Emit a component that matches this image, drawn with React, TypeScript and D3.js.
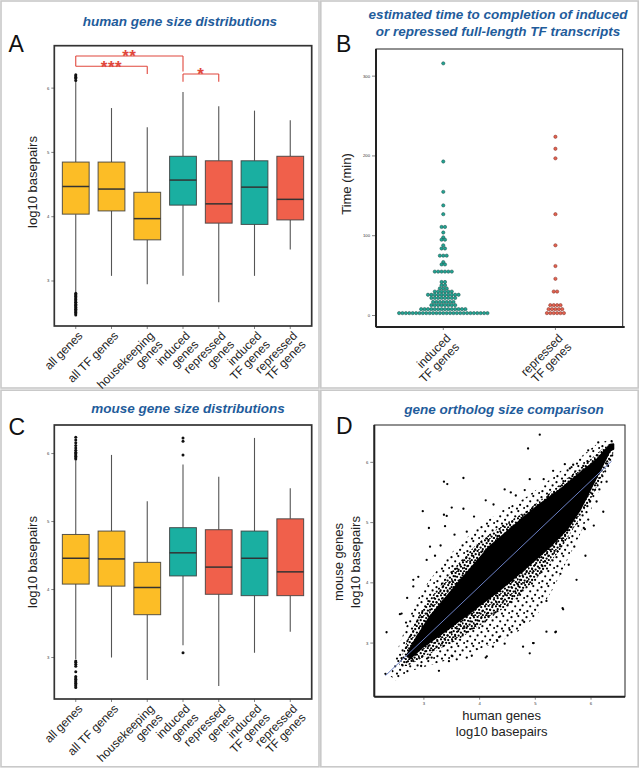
import React from "react";
import * as d3 from "d3";

const FONT = "'Liberation Sans', Arial, Helvetica, sans-serif";
const TITLE_BLUE = "#1f5c9b";
const YELLOW = "#fcbd26";
const TEAL = "#1aafa1";
const RED = "#f0604b";
const SIG_RED = "#e0473c";

// ---------- box plot data (log10 basepairs) ----------
const boxCategories = [
  "all genes",
  "all TF genes",
  "housekeeping\ngenes",
  "induced\ngenes",
  "repressed\ngenes",
  "induced\nTF genes",
  "repressed\nTF genes",
];
const boxGroups = ["base", "base", "base", "induced", "repressed", "induced", "repressed"];

const humanLower = [2.83, 3.08, 2.95, 3.08, 2.67, 3.08, 3.49];
const humanQ1 = [4.04, 4.09, 3.64, 4.18, 3.9, 3.88, 3.95];
const humanMedian = [4.47, 4.43, 3.97, 4.57, 4.2, 4.46, 4.27];
const humanQ3 = [4.85, 4.85, 4.38, 4.94, 4.87, 4.87, 4.94];
const humanUpper = [6.1, 5.69, 5.39, 5.94, 5.72, 5.65, 5.5];
const humanOutliers: [number, number][] = [
  [0, 6.12], [0, 6.15], [0, 6.17], [0, 6.19], [0, 6.21],
  [0, 2.81], [0, 2.79], [0, 2.77], [0, 2.76], [0, 2.74], [0, 2.72], [0, 2.71], [0, 2.69],
  [0, 2.67], [0, 2.66], [0, 2.64], [0, 2.62], [0, 2.61], [0, 2.59], [0, 2.57], [0, 2.56],
  [0, 2.54], [0, 2.52], [0, 2.51], [0, 2.49], [0, 2.47],
];

const mouseLower = [2.98, 3.0, 2.67, 3.18, 2.58, 3.07, 3.38];
const mouseQ1 = [4.08, 4.05, 3.63, 4.2, 3.93, 3.91, 3.91];
const mouseMedian = [4.46, 4.45, 4.03, 4.54, 4.33, 4.46, 4.26];
const mouseQ3 = [4.81, 4.86, 4.4, 4.91, 4.88, 4.86, 5.04];
const mouseUpper = [5.9, 5.98, 5.3, 5.84, 5.66, 6.23, 5.49];
const mouseOutliers: [number, number][] = [
  [0, 5.92], [0, 5.94], [0, 5.96], [0, 5.98], [0, 6.0], [0, 6.02], [0, 6.05], [0, 6.08],
  [0, 6.12], [0, 6.16], [0, 6.2], [0, 6.24],
  [0, 2.95], [0, 2.93], [0, 2.9], [0, 2.87], [0, 2.79], [0, 2.72], [0, 2.7], [0, 2.68],
  [0, 2.66], [0, 2.64], [0, 2.62], [0, 2.6], [0, 2.58], [0, 2.56],
  [3, 5.98], [3, 6.18], [3, 6.23], [3, 3.07],
];

const boxYTicks = [3, 4, 5, 6];

// significance brackets (panel A)
const bracketFrom = [0, 0, 3];
const bracketTo = [3, 2, 4];
const bracketY = [6.5, 6.34, 6.22];
const bracketFromEnd = [6.34, 6.34, 6.1];
const bracketToEnd = [6.26, 6.22, 6.1];
const bracketLabels = ["**", "***", "*"];

// ---------- dot plot data (minutes) ----------
const dotCategories = ["induced\nTF genes", "repressed\nTF genes"];
const inducedValues = [316, 193, 155, 138, 127, 111, 104, 98, 95, 88, 84, 75, 67, 64, 55, 42, 38, 34, 30, 26, 22, 17, 13, 8, 3];
const inducedCounts = [1, 1, 1, 1, 1, 2, 1, 1, 2, 1, 2, 3, 1, 2, 6, 2, 2, 3, 6, 10, 8, 7, 8, 14, 27];
const repressedValues = [224, 209, 197, 127, 88, 62, 46, 30, 13, 8, 3];
const repressedCounts = [1, 1, 1, 1, 1, 1, 1, 2, 4, 5, 6];
const timeTicks = [0, 100, 200, 300];

// ---------- ortholog scatter (log10 bp) ----------
const scatterTicks = [3, 4, 5, 6];
const coreRegion: [number, number][] = [
  [2.7, 2.8], [2.81, 3.0], [3.11, 3.44], [3.41, 3.77], [3.77, 4.16], [4.18, 4.6], [4.6, 4.93],
  [5.02, 5.26], [5.44, 5.54], [5.8, 5.82], [6.1, 6.04], [6.34, 6.29], [6.4, 6.3],
  [6.4, 6.22], [6.34, 6.2], [6.16, 5.87], [5.98, 5.54], [5.8, 5.21], [5.56, 4.88], [5.2, 4.55],
  [4.78, 4.21], [4.36, 3.88], [3.89, 3.55], [3.41, 3.22], [3.0, 2.95], [2.75, 2.75],
];
const midRegion: [number, number][] = [
  [2.55, 2.62], [2.7, 3.05], [2.9, 3.45], [3.2, 3.85], [3.55, 4.25], [3.95, 4.65], [4.4, 4.95],
  [4.85, 5.2], [5.2, 5.45], [5.55, 5.72], [5.9, 5.98], [6.2, 6.22], [6.38, 6.34], [6.4, 6.15],
  [6.2, 5.78], [6.0, 5.4], [5.75, 5.0], [5.45, 4.55], [5.05, 4.1], [4.6, 3.7], [4.1, 3.35],
  [3.6, 3.05], [3.1, 2.82], [2.7, 2.62],
];
const outerRegion: [number, number][] = [
  [2.4, 2.45], [2.55, 2.95], [2.75, 3.45], [2.95, 3.85], [3.23, 4.2], [3.59, 4.6], [4.01, 4.95],
  [4.4, 5.2], [4.8, 5.4], [5.1, 5.6], [5.44, 5.85], [5.8, 6.08], [6.1, 6.3], [6.34, 6.38],
  [6.42, 6.32], [6.4, 6.1], [6.22, 5.7], [6.04, 5.3], [5.8, 4.8], [5.56, 4.35], [5.32, 3.9],
  [5.02, 3.45], [4.6, 3.12], [4.13, 2.95], [3.71, 2.8], [3.29, 2.68], [2.81, 2.55], [2.5, 2.38],
];
const scatterOutliers: [number, number][] = [
  [5.08, 6.46], [4.87, 6.23], [6.13, 6.33], [6.37, 6.35], [3.71, 5.74], [3.36, 5.68], [3.42, 5.64],
  [2.98, 5.19], [3.09, 4.91], [3.11, 4.6], [3.36, 5.13], [3.38, 4.94], [3.71, 5.23], [4.11, 5.37],
  [4.56, 5.5], [4.9, 5.72], [5.53, 5.97], [5.68, 5.96], [5.89, 4.89], [6.28, 5.68], [6.22, 5.18],
  [3.77, 4.85], [2.33, 3.18], [2.57, 3.48], [2.68, 3.34], [2.31, 2.49], [3.27, 2.54], [3.08, 2.76],
  [3.5, 2.79], [3.86, 2.79], [4.11, 2.76], [4.9, 2.83], [4.45, 2.99], [5.36, 3.18], [5.5, 3.56],
  [5.74, 4.05], [5.2, 3.19], [4.96, 3.0], [4.24, 2.94], [3.5, 5.25], [3.41, 5.11], [4.45, 5.55],
  [4.81, 5.54], [5.32, 5.86], [5.86, 5.94], [5.98, 5.35], [6.1, 5.35], [5.87, 4.91], [5.49, 3.58],
  [5.37, 3.19], [4.97, 3.0], [4.13, 2.78], [2.6, 3.49], [2.81, 4.05], [2.81, 3.94], [3.14, 2.76],
  [3.59, 2.73], [3.77, 2.76], [4.54, 3.22], [4.78, 2.94], [4.31, 3.05],
  [3.05, 4.38], [3.2, 4.45], [3.3, 4.62], [3.55, 4.8], [3.9, 5.1], [4.25, 5.3], [4.65, 5.45],
  [5.15, 5.72], [5.62, 5.9], [5.95, 6.2], [6.3, 5.95], [6.15, 5.55], [5.95, 5.05], [5.7, 4.6],
  [5.45, 4.15], [5.2, 3.7], [4.8, 3.35], [4.35, 3.1], [3.95, 2.9], [3.45, 2.7], [2.95, 2.62],
  [2.6, 2.75], [2.7, 3.75], [2.9, 4.1], [5.6, 4.3], [5.9, 4.45], [6.05, 4.95],
];
const regressionX = [2.31, 6.37];
const regressionY = [2.46, 6.02];

// ---------------------------------------------------------
const groupColor = (g: string) => (g === "base" ? YELLOW : g === "induced" ? TEAL : RED);

type Plot = { left: number; right: number; top: number; bottom: number };

function RotatedLabel({ x, y, label, size = 12 }: { x: number; y: number; label: string; size?: number }) {
  const lines = label.split("\n");
  return (
    <text
      transform={`translate(${x},${y}) rotate(-45)`}
      textAnchor="end"
      fontSize={size}
      fontFamily={FONT}
      fill="#222"
    >
      {lines.map((l, i) => (
        <tspan key={i} x={0} dy={i === 0 ? "0.72em" : "1.02em"}>
          {l}
        </tspan>
      ))}
    </text>
  );
}

function YTicks({ y, ticks, left }: { y: d3.ScaleLinear<number, number>; ticks: number[]; left: number }) {
  return (
    <g>
      {ticks.map((t) => (
        <g key={t}>
          <line x1={left - 3} x2={left} y1={y(t)} y2={y(t)} stroke="#333" strokeWidth={0.6} />
          <text x={left - 5} y={y(t)} dy="0.35em" textAnchor="end" fontSize={4.2} fontFamily={FONT} fill="#333">
            {t}
          </text>
        </g>
      ))}
    </g>
  );
}

function BoxPanel(props: {
  plot: Plot;
  yDomain: [number, number];
  lower: number[];
  q1: number[];
  median: number[];
  q3: number[];
  upper: number[];
  outliers: [number, number][];
  withBrackets?: boolean;
}) {
  const { plot, yDomain, lower, q1, median, q3, upper, outliers, withBrackets } = props;
  const x = d3.scalePoint<string>().domain(boxCategories).range([plot.left, plot.right]).padding(0.6);
  const y = d3.scaleLinear().domain(yDomain).range([plot.bottom, plot.top]);
  const bw = x.step() * 0.75;
  return (
    <g>
      {boxCategories.map((c, i) => {
        const cx = x(c)!;
        return (
          <g key={c}>
            <line x1={cx} x2={cx} y1={y(lower[i])} y2={y(q1[i])} stroke="#555" strokeWidth={1.1} />
            <line x1={cx} x2={cx} y1={y(q3[i])} y2={y(upper[i])} stroke="#555" strokeWidth={1.1} />
            <rect
              x={cx - bw / 2}
              y={y(q3[i])}
              width={bw}
              height={y(q1[i]) - y(q3[i])}
              fill={groupColor(boxGroups[i])}
              stroke="#3a3a3a"
              strokeOpacity={0.85}
              strokeWidth={1}
            />
            <line x1={cx - bw / 2} x2={cx + bw / 2} y1={y(median[i])} y2={y(median[i])} stroke="#333" strokeWidth={1.5} />
          </g>
        );
      })}
      {outliers.map(([i, v], k) => (
        <circle key={k} cx={x(boxCategories[i])!} cy={y(v)} r={1.5} fill="#111" />
      ))}
      {withBrackets &&
        bracketLabels.map((lab, k) => {
          const x1 = x(boxCategories[bracketFrom[k]])!;
          const x2 = x(boxCategories[bracketTo[k]])!;
          const yy = y(bracketY[k]);
          return (
            <g key={k} stroke={SIG_RED} strokeWidth={1.1} fill="none">
              <line x1={x1} x2={x2} y1={yy} y2={yy} />
              <line x1={x1} x2={x1} y1={yy} y2={y(bracketFromEnd[k])} />
              <line x1={x2} x2={x2} y1={yy} y2={y(bracketToEnd[k])} />
              <text
                x={(x1 + x2) / 2}
                y={yy + 6.5}
                textAnchor="middle"
                fontSize={17}
                fontWeight="bold"
                fontFamily={FONT}
                fill={SIG_RED}
                stroke="none"
                letterSpacing={0.5}
              >
                {lab}
              </text>
            </g>
          );
        })}
      <rect
        x={plot.left}
        y={plot.top}
        width={plot.right - plot.left}
        height={plot.bottom - plot.top}
        fill="none"
        stroke="#333"
        strokeWidth={1.7}
      />
      <YTicks y={y} ticks={boxYTicks} left={plot.left} />
      {boxCategories.map((c) => (
        <g key={c}>
          <line x1={x(c)!} x2={x(c)!} y1={plot.bottom} y2={plot.bottom + 3} stroke="#333" strokeWidth={0.6} />
          <RotatedLabel x={x(c)! + 1.5} y={plot.bottom + 4.5} label={c} />
        </g>
      ))}
    </g>
  );
}

function DotPanel({ plot }: { plot: Plot }) {
  const x = d3.scalePoint<string>().domain(dotCategories).range([plot.left, plot.right]).padding(0.6);
  const y = d3.scaleLinear().domain([-14.4, 334]).range([plot.bottom, plot.top]);
  const d = 3.4;
  const series = [
    { cat: dotCategories[0], values: inducedValues, counts: inducedCounts, fill: "#22a594", stroke: "#1b4a45" },
    { cat: dotCategories[1], values: repressedValues, counts: repressedCounts, fill: "#e4624f", stroke: "#7b2b23" },
  ];
  return (
    <g>
      {series.map((s) =>
        s.values.map((v, bi) => {
          const n = s.counts[bi];
          return d3.range(n).map((k) => (
            <circle
              key={`${s.cat}-${bi}-${k}`}
              cx={x(s.cat)! + (k - (n - 1) / 2) * d}
              cy={y(v)}
              r={d / 2 - 0.05}
              fill={s.fill}
              stroke={s.stroke}
              strokeWidth={0.5}
            />
          ));
        })
      )}
      <rect x={plot.left} y={plot.top} width={plot.right - plot.left} height={plot.bottom - plot.top} fill="none" stroke="#222" strokeWidth={1} />
      <line x1={plot.left} x2={plot.left} y1={plot.top} y2={plot.bottom} stroke="#222" strokeWidth={2} />
      <line x1={plot.left} x2={plot.right + 2} y1={plot.bottom} y2={plot.bottom} stroke="#222" strokeWidth={2} />
      <YTicks y={y} ticks={timeTicks} left={plot.left - 1} />
      {dotCategories.map((c) => (
        <g key={c}>
          <line x1={x(c)!} x2={x(c)!} y1={plot.bottom} y2={plot.bottom + 3} stroke="#333" strokeWidth={0.6} />
          <RotatedLabel x={x(c)! + 2} y={plot.bottom + 6} label={c} />
        </g>
      ))}
    </g>
  );
}

function ScatterPanel({ plot }: { plot: Plot }) {
  const x = d3.scaleLinear().domain([2.11, 6.61]).range([plot.left, plot.right]);
  const y = d3.scaleLinear().domain([2.11, 6.62]).range([plot.bottom, plot.top]);
  const poly = (pts: [number, number][]) => pts.map(([a, b]) => `${x(a)},${y(b)}`).join(" ");
  const line = d3
    .line<number>()
    .x((_, i) => x(regressionX[i]))
    .y((_, i) => y(regressionY[i]));
  return (
    <g>
      <defs>
        <pattern id="haloSparse" width={15} height={15} patternUnits="userSpaceOnUse">
          <circle cx={1.5} cy={2.2} r={1.1} fill="#000" />
          <circle cx={8.3} cy={1.1} r={1.1} fill="#000" />
          <circle cx={12.6} cy={5.4} r={1.1} fill="#000" />
          <circle cx={5.2} cy={6.3} r={1.1} fill="#000" />
          <circle cx={10.1} cy={9.8} r={1.1} fill="#000" />
          <circle cx={2.4} cy={11.2} r={1.1} fill="#000" />
          <circle cx={14.1} cy={12.9} r={1.0} fill="#000" />
          <circle cx={7.0} cy={13.6} r={1.1} fill="#000" />
        </pattern>
        <pattern id="haloDense" width={11} height={11} patternUnits="userSpaceOnUse">
          <circle cx={1.0} cy={1.3} r={1.15} fill="#000" />
          <circle cx={4.6} cy={0.9} r={1.15} fill="#000" />
          <circle cx={8.2} cy={2.1} r={1.15} fill="#000" />
          <circle cx={2.7} cy={4.2} r={1.15} fill="#000" />
          <circle cx={6.1} cy={4.8} r={1.15} fill="#000" />
          <circle cx={9.9} cy={5.6} r={1.15} fill="#000" />
          <circle cx={0.6} cy={7.3} r={1.15} fill="#000" />
          <circle cx={4.1} cy={8.0} r={1.15} fill="#000" />
          <circle cx={7.6} cy={8.6} r={1.15} fill="#000" />
          <circle cx={2.2} cy={10.3} r={1.1} fill="#000" />
          <circle cx={9.8} cy={10.1} r={1.1} fill="#000" />
          <circle cx={5.9} cy={10.9} r={1.0} fill="#000" />
        </pattern>
      </defs>
      <polygon points={poly(outerRegion)} fill="url(#haloSparse)" />
      <polygon points={poly(midRegion)} fill="url(#haloDense)" />
      <polygon points={poly(coreRegion)} fill="#000" stroke="#000" strokeWidth={2} strokeLinejoin="round" />
      {scatterOutliers.map(([a, b], i) => (
        <circle key={i} cx={x(a)} cy={y(b)} r={1.15} fill="#000" />
      ))}
      <path d={line(regressionX) || ""} stroke="#6a7fc4" strokeWidth={1} fill="none" />
      <rect x={plot.left} y={plot.top} width={plot.right - plot.left} height={plot.bottom - plot.top} fill="none" stroke="#222" strokeWidth={1} />
      <line x1={plot.left} x2={plot.left} y1={plot.top} y2={plot.bottom} stroke="#222" strokeWidth={2} />
      <line x1={plot.left} x2={plot.right} y1={plot.bottom} y2={plot.bottom} stroke="#222" strokeWidth={2} />
      <YTicks y={y} ticks={scatterTicks} left={plot.left - 1} />
      {scatterTicks.map((t) => (
        <g key={t}>
          <line x1={x(t)} x2={x(t)} y1={plot.bottom} y2={plot.bottom + 3} stroke="#333" strokeWidth={0.6} />
          <text x={x(t)} y={plot.bottom + 8.5} textAnchor="middle" fontSize={4.2} fontFamily={FONT} fill="#333">
            {t}
          </text>
        </g>
      ))}
    </g>
  );
}

function Title({ x, y, lines }: { x: number; y: number; lines: string[] }) {
  return (
    <text x={x} y={y} textAnchor="middle" fontSize={13.5} fontWeight="bold" fontStyle="italic" fontFamily={FONT} fill={TITLE_BLUE}>
      {lines.map((l, i) => (
        <tspan key={i} x={x} dy={i === 0 ? 0 : 16.7}>
          {l}
        </tspan>
      ))}
    </text>
  );
}

function Letter({ x, y, t }: { x: number; y: number; t: string }) {
  return (
    <text x={x} y={y} fontSize={23} fontFamily={FONT} fill="#111">
      {t}
    </text>
  );
}

function VLabel({ x, y, lines }: { x: number; y: number; lines: string[] }) {
  return (
    <text transform={`translate(${x},${y}) rotate(-90)`} textAnchor="middle" fontSize={13} fontFamily={FONT} fill="#222">
      {lines.map((l, i) => (
        <tspan key={i} x={0} dy={i === 0 ? 0 : 16.5}>
          {l}
        </tspan>
      ))}
    </text>
  );
}

export default function App() {
  const plotA: Plot = { left: 54.3, right: 311.7, top: 45.7, bottom: 326 };
  const plotB: Plot = { left: 376, right: 622.7, top: 49, bottom: 327 };
  const plotC: Plot = { left: 54.3, right: 311.7, top: 425, bottom: 699 };
  const plotD: Plot = { left: 374.3, right: 625, top: 425, bottom: 696.7 };
  return (
    <svg
      width={640}
      height={769}
      viewBox="0 0 640 769"
      style={{ position: "absolute", left: 0, top: 0, background: "#fff" }}
    >
      <rect x={0} y={0} width={640} height={769} fill="#fff" />
      {/* panel frames */}
      <g fill="none" stroke="#c9c9c9" strokeWidth={1.6}>
        <rect x={1} y={1} width={318} height={387} />
        <rect x={320.8} y={1} width={317.4} height={387} />
        <rect x={1} y={390.2} width={318} height={376.6} />
        <rect x={320.8} y={390.2} width={317.4} height={376.6} />
      </g>

      <Letter x={8.5} y={51.7} t="A" />
      <Title x={180} y={26} lines={["human gene size distributions"]} />
      <VLabel x={36.5} y={182} lines={["log10 basepairs"]} />
      <BoxPanel
        plot={plotA}
        yDomain={[2.3, 6.66]}
        lower={humanLower}
        q1={humanQ1}
        median={humanMedian}
        q3={humanQ3}
        upper={humanUpper}
        outliers={humanOutliers}
        withBrackets
      />

      <Letter x={336} y={51.7} t="B" />
      <Title x={498} y={19} lines={["estimated time to completion of induced", "or repressed full-length TF transcripts"]} />
      <VLabel x={351} y={184} lines={["Time (min)"]} />
      <DotPanel plot={plotB} />

      <Letter x={8.5} y={435} t="C" />
      <Title x={188} y={413} lines={["mouse gene size distributions"]} />
      <VLabel x={36.5} y={562} lines={["log10 basepairs"]} />
      <BoxPanel
        plot={plotC}
        yDomain={[2.39, 6.42]}
        lower={mouseLower}
        q1={mouseQ1}
        median={mouseMedian}
        q3={mouseQ3}
        upper={mouseUpper}
        outliers={mouseOutliers}
      />

      <Letter x={336} y={434.3} t="D" />
      <Title x={504} y={413.5} lines={["gene ortholog size comparison"]} />
      <VLabel x={343} y={562} lines={["mouse genes", "log10 basepairs"]} />
      <ScatterPanel plot={plotD} />
      <text x={501.7} y={719.5} textAnchor="middle" fontSize={13} fontFamily={FONT} fill="#222">
        <tspan x={501.7}>human genes</tspan>
        <tspan x={501.7} dy={16.3}>log10 basepairs</tspan>
      </text>
    </svg>
  );
}
